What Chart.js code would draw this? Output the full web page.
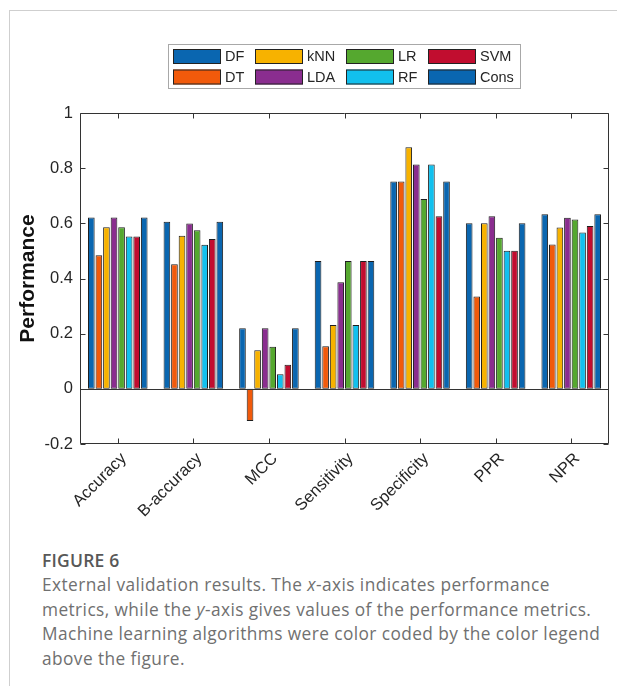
<!DOCTYPE html>
<html>
<head>
<meta charset="utf-8">
<script src="https://cdn.jsdelivr.net/npm/chart.js@4/dist/chart.umd.min.js"></script>
<style>
  html, body { margin: 0; padding: 0; background: #fff; }
  body { width: 617px; height: 686px; position: relative; overflow: hidden; }
  .card { position: absolute; left: 9px; top: 10px; right: -2px; bottom: -2px;
          border-left: 1px solid #cfcfcf; border-top: 1px solid #cfcfcf; }
  #wrap { position: absolute; left: 0; top: 0; width: 617px; height: 530px; }
  .cap { position: absolute; left: 42px; top: 548px; width: 575px; white-space: nowrap;
         font-family: "Open Sans", "Noto Sans", sans-serif; color: #707070; }
  .cap h4 { margin: 0 0 1px 0; font-size: 17.5px; font-weight: 600; color: #585858; line-height: 24px; letter-spacing: 0.2px; }
  .cap p { margin: 0; font-size: 17.3px; line-height: 24.6px; font-weight: 400; letter-spacing: 0.42px; }
</style>
</head>
<body>
<div class="card"></div>
<div id="wrap"><canvas id="c" width="617" height="530"></canvas></div>
<div class="cap">
  <h4>FIGURE 6</h4>
  <p>External validation results. The <i>x</i>-axis indicates performance<br>metrics, while the <i>y</i>-axis gives values of the performance metrics.<br>Machine learning algorithms were color coded by the color legend<br>above the figure.</p>
</div>
<script>
// Performance metrics on the x-axis
const metrics = ['Accuracy', 'B-accuracy', 'MCC', 'Sensitivity', 'Specificity', 'PPR', 'NPR'];

// One series per algorithm, values in metric order
const DF   = [0.621, 0.606, 0.220, 0.463, 0.752, 0.600, 0.633];
const DT   = [0.484, 0.452, -0.117, 0.154, 0.752, 0.335, 0.523];
const kNN  = [0.586, 0.555, 0.140, 0.231, 0.876, 0.600, 0.585];
const LDA  = [0.621, 0.599, 0.220, 0.386, 0.813, 0.626, 0.620];
const LR   = [0.586, 0.575, 0.153, 0.463, 0.688, 0.548, 0.614];
const RF   = [0.552, 0.522, 0.053, 0.231, 0.813, 0.501, 0.567];
const SVM  = [0.552, 0.543, 0.087, 0.463, 0.626, 0.501, 0.590];
const Cons = [0.621, 0.606, 0.220, 0.463, 0.752, 0.600, 0.633];

const seriesNames = ['DF', 'DT', 'kNN', 'LDA', 'LR', 'RF', 'SVM', 'Cons'];
const seriesValues = [DF, DT, kNN, LDA, LR, RF, SVM, Cons];
const seriesColors = ['#0a66b0', '#f15a0b', '#f7b200', '#8a2d8f', '#55a82f', '#12c0ee', '#c10d2f', '#0a66b0'];

const yTicks = [-0.2, 0, 0.2, 0.4, 0.6, 0.8, 1];

const AXIS = '#333333';
const FONT = '"Liberation Sans", Arial, sans-serif';

// Box around the axes with inward tick marks on all four sides, plus the zero baseline
const axesBox = {
  id: 'axesBox',
  afterDatasetsDraw(chart) {
    const { ctx, chartArea: a, scales: { x, y } } = chart;
    ctx.save();
    ctx.strokeStyle = AXIS;
    ctx.lineWidth = 1;
    const L = Math.round(a.left) + 0.5, R = Math.round(a.right) - 0.5;
    const T = Math.round(a.top) + 0.5, B = Math.round(a.bottom) - 0.5;
    ctx.beginPath();
    ctx.rect(L, T, R - L, B - T);
    const tl = 5;
    yTicks.forEach(v => {
      const py = Math.round(y.getPixelForValue(v)) + 0.5;
      ctx.moveTo(L, py); ctx.lineTo(L + tl, py);
      ctx.moveTo(R, py); ctx.lineTo(R - tl, py);
    });
    metrics.forEach((m, i) => {
      const px = Math.round(x.getPixelForValue(i)) + 0.5;
      ctx.moveTo(px, B); ctx.lineTo(px, B - tl);
      ctx.moveTo(px, T); ctx.lineTo(px, T + tl);
    });
    const z = Math.round(y.getPixelForValue(0)) + 0.5;
    ctx.moveTo(L, z); ctx.lineTo(R, z);
    ctx.stroke();
    ctx.restore();
  }
};

// Boxed legend laid out in four columns, filled column by column
const boxLegend = {
  id: 'boxLegend',
  afterDraw(chart) {
    const ctx = chart.ctx;
    const ds = chart.data.datasets;
    const rows = 2, cols = Math.ceil(ds.length / rows);
    const sw = 48, sh = 15, gap = 4, colGap = 10.7;
    const x0 = 173, rowY = [49, 69.5];
    ctx.save();
    ctx.font = '14.5px ' + FONT;
    ctx.textBaseline = 'middle';
    let x = x0, lastRight = x0;
    const colStarts = [];
    for (let c = 0; c < cols; c++) {
      colStarts.push(x);
      let maxW = 0;
      for (let r = 0; r < rows; r++) {
        const d = ds[c * rows + r];
        if (d) maxW = Math.max(maxW, ctx.measureText(d.label).width);
      }
      lastRight = x + sw + gap + maxW;
      x = lastRight + colGap;
    }
    const bx = 168.5, by = 44.5, bw = Math.round(lastRight + 6) - bx + 0.5, bh = 44;
    ctx.fillStyle = '#ffffff';
    ctx.fillRect(bx, by, bw, bh);
    ctx.strokeStyle = '#a8a8a8';
    ctx.lineWidth = 1;
    ctx.strokeRect(bx, by, bw, bh);
    for (let c = 0; c < cols; c++) {
      for (let r = 0; r < rows; r++) {
        const d = ds[c * rows + r];
        if (!d) continue;
        const sx = Math.round(colStarts[c]), sy = rowY[r];
        ctx.fillStyle = d.backgroundColor;
        ctx.fillRect(sx, sy, sw, sh);
        ctx.strokeStyle = '#222';
        ctx.strokeRect(sx + 0.5, sy + 0.5, sw - 1, sh - 1);
        ctx.fillStyle = '#262626';
        ctx.fillText(d.label, sx + sw + gap, sy + sh / 2 + 0.5);
      }
    }
    ctx.restore();
  }
};

new Chart(document.getElementById('c'), {
  type: 'bar',
  data: {
    labels: metrics,
    datasets: seriesNames.map((name, i) => ({
      label: name,
      data: seriesValues[i],
      backgroundColor: seriesColors[i],
      borderColor: '#1e1e1e',
      borderWidth: 1,
      borderSkipped: false,
      categoryPercentage: 0.8,
      barPercentage: 0.88
    }))
  },
  options: {
    responsive: false,
    animation: false,
    layout: { padding: { top: 113, right: 8, left: 0, bottom: 0 } },
    plugins: {
      legend: { display: false },
      tooltip: { enabled: false }
    },
    scales: {
      x: {
        grid: { display: false, drawTicks: false },
        border: { display: false },
        ticks: {
          color: '#262626',
          font: { family: FONT, size: 16.5 },
          minRotation: 45, maxRotation: 45,
          padding: 5,
          labelOffset: 6
        },
        afterFit(s) { s.height = 86; }
      },
      y: {
        min: -0.2, max: 1,
        grid: { display: false, drawTicks: false },
        border: { display: false },
        ticks: {
          stepSize: 0.2,
          color: '#262626',
          font: { family: FONT, size: 16.5 },
          padding: 7,
          callback: v => {
            const r = Math.round(v * 10) / 10;
            return String(r);
          }
        },
        title: {
          display: true,
          text: 'Performance',
          color: '#111',
          font: { family: FONT, size: 21, weight: 'bold' },
          padding: { top: 16, bottom: 0 }
        },
        afterFit(s) { s.width = 80; }
      }
    }
  },
  plugins: [axesBox, boxLegend]
});
</script>
</body>
</html>
